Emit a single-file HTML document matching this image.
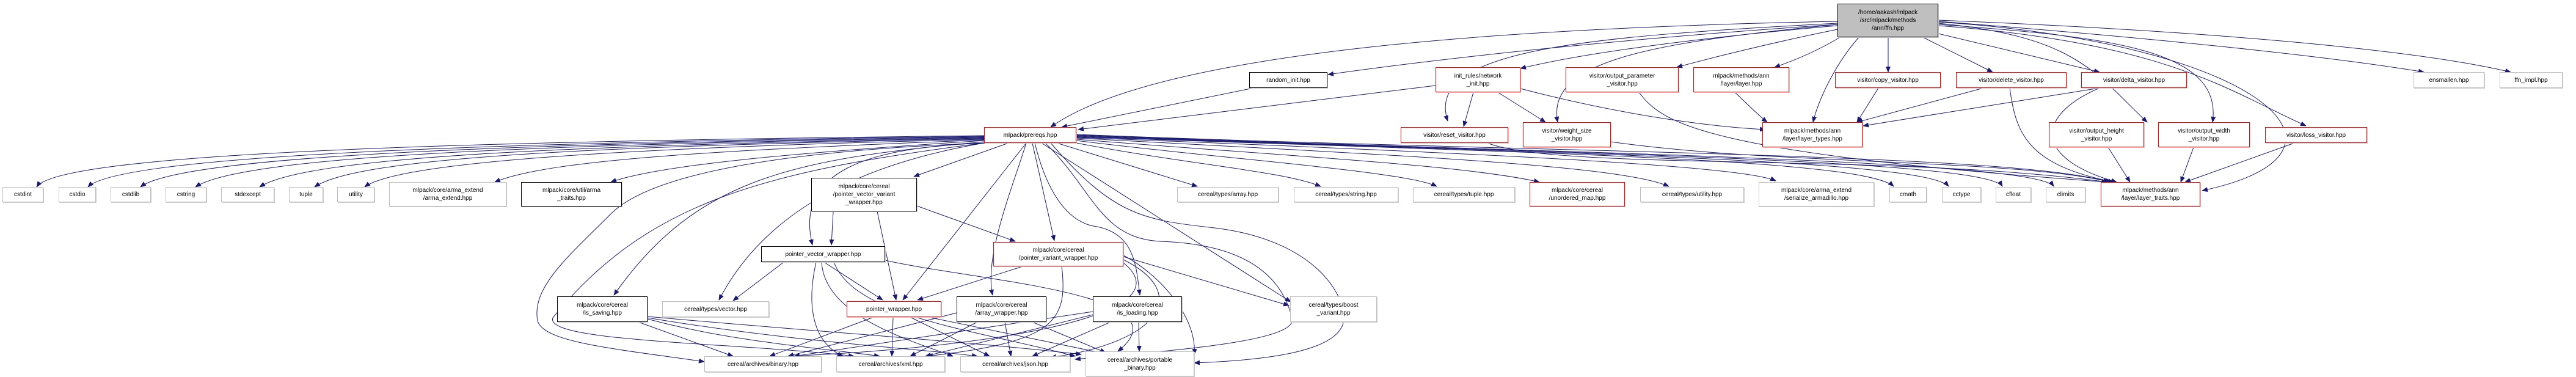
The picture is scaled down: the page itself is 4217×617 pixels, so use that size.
<!DOCTYPE html>
<html><head><meta charset="utf-8"><style>
html,body{margin:0;padding:0;background:#fff;}
#c{position:relative;width:4217px;height:617px;overflow:hidden;}
svg{position:absolute;left:0;top:0;}
.n{position:absolute;box-sizing:border-box;background:#fff;border:1px solid #bfbfbf;font:10px/13px "Liberation Sans",sans-serif;color:#000;display:flex;align-items:center;justify-content:center;text-align:center;white-space:nowrap;box-shadow:1px 1px 0 #ccc;}
.r{border-color:#ff0000;}
.k{border-color:#000;}
.g{border-color:#bfbfbf;}
.root{background:#bfbfbf;border-color:#000;}
</style></head><body><div id="c">
<svg width="4217" height="617" viewBox="0 0 4217 617">
<defs><marker id="a" markerWidth="10" markerHeight="8" refX="9" refY="4" orient="auto" markerUnits="userSpaceOnUse"><path d="M0,0 L10,4 L0,8 z" fill="#191970"/></marker></defs>
<g fill="none" stroke="#191970" stroke-width="1" marker-end="url(#a)">
<!-- root edges -->
<path d="M3008,35 C2500,45 1900,80 1720,208"/>
<path d="M3008,40 C2700,60 2400,90 2174,122"/>
<path d="M3008,42 C2800,60 2600,85 2489,112"/>
<path d="M3008,48 C2900,70 2800,95 2745,110"/>
<path d="M3022,55 C2990,75 2950,95 2905,110"/>
<path d="M3043,61 C3000,110 2975,170 2968,200"/>
<path d="M3091,61 L3091,118"/>
<path d="M3148,61 L3262,118"/>
<path d="M3173,55 L3437,118"/>
<path d="M3008,38 C2600,60 2330,80 2370,198"/>
<path d="M3008,40 C2700,70 2530,100 2550,200"/>
<path d="M3173,38 C3400,60 3430,120 3515,200"/>
<path d="M3173,40 C3450,60 3640,80 3622,200"/>
<path d="M3173,42 C3550,70 3650,150 3775,206"/>
<path d="M3173,36 C3700,70 3900,250 3605,312"/>
<path d="M3173,35 C3500,60 3800,90 3968,118"/>
<path d="M3173,33 C3600,50 3950,80 4110,118"/>
<!-- mid edges -->
<path d="M2052,144 L1738,208"/>
<path d="M2350,140 L1765,212"/>
<path d="M2412,151 L2396,207"/>
<path d="M2452,151 L2530,200"/>
<path d="M2489,145 C2700,200 2850,210 2890,212"/>
<path d="M2683,151 C2720,200 2780,250 3450,298"/>
<path d="M2840,151 C2860,170 2880,190 2893,200"/>
<path d="M3075,144 L3040,200"/>
<path d="M3247,144 L3040,200"/>
<path d="M3290,144 C3300,220 3320,270 3460,298"/>
<path d="M3437,144 L3050,206"/>
<path d="M3437,144 C3330,190 3330,260 3465,298"/>
<path d="M2435,234 C2550,280 3100,250 3450,298"/>
<path d="M2637,232 C2900,270 3300,260 3455,298"/>
<path d="M3451,241 L3487,298"/>
<path d="M3591,241 L3570,298"/>
<path d="M3756,234 L3577,298"/>
<!-- prereqs -> std nodes -->
<path d="M1611,222 C900,230 100,245 60,306"/>
<path d="M1611,223 C900,232 200,250 144,306"/>
<path d="M1611,224 C900,234 300,252 230,306"/>
<path d="M1611,225 C900,236 400,254 320,306"/>
<path d="M1611,226 C900,238 500,258 425,306"/>
<path d="M1611,227 C900,240 580,262 515,306"/>
<path d="M1611,228 C1000,242 650,266 597,306"/>
<path d="M1611,229 C1200,245 900,260 810,298"/>
<path d="M1611,230 C1300,250 1080,270 1000,298"/>
<path d="M1651,234 L1496,289"/>
<path d="M1618,234 C1420,240 1300,280 1330,401"/>
<path d="M1611,232 C1300,260 1140,290 1005,483"/>
<path d="M1611,234 C1400,270 1250,350 1177,491"/>
<path d="M1611,234 C1200,250 1050,300 1000,350 C930,420 870,470 880,525 C890,560 1000,570 1153,592"/>
<path d="M1611,234 C1250,280 1060,330 905,520 C890,560 1200,560 1398,583"/>
<path d="M1680,234 L1478,491"/>
<path d="M1690,234 L1726,394"/>
<path d="M1680,234 C1660,300 1610,420 1625,483"/>
<path d="M1694,234 C1710,300 1740,360 1790,370 C1860,380 1860,440 1866,483"/>
<path d="M1705,234 L2113,494"/>
<path d="M1711,234 C1790,310 1800,390 1900,395 C2050,400 2100,460 2115,520 C2130,560 1900,575 1760,588"/>
<path d="M1720,234 C1820,350 1870,360 1980,372 C2150,390 2200,480 2200,520 C2200,580 2050,590 1955,594"/>
<path d="M1730,234 L1960,305"/>
<path d="M1762,234 C1950,270 2100,280 2162,305"/>
<path d="M1762,230 C2000,260 2300,280 2352,305"/>
<path d="M1762,228 C2100,255 2400,270 2520,298"/>
<path d="M1762,226 C2300,255 2650,270 2732,305"/>
<path d="M1762,225 C2400,250 2850,270 2907,296"/>
<path d="M1762,224 C2500,250 3050,260 3100,305"/>
<path d="M1762,223 C2500,250 3150,260 3190,305"/>
<path d="M1762,222 C2500,250 3250,260 3278,305"/>
<path d="M1762,221 C2500,250 3330,260 3362,305"/>
<path d="M1762,220 C2500,250 3300,250 3452,298"/>
<!-- cereal wrappers -->
<path d="M1364,346 L1361,401"/>
<path d="M1501,337 L1662,395"/>
<path d="M1436,346 L1467,491"/>
<path d="M1283,429 L1200,492"/>
<path d="M1349,429 L1445,491"/>
<path d="M1336,429 C1320,500 1330,560 1380,583"/>
<path d="M1345,429 C1350,520 1500,560 1560,583"/>
<path d="M1365,429 C1400,520 1600,540 1760,583"/>
<path d="M1449,426 C1600,460 1950,480 1830,575"/>
<path d="M1674,436 L1502,491"/>
<path d="M1839,420 L2110,500"/>
<path d="M1839,418 C1900,450 1960,520 1955,580"/>
<path d="M1738,436 C1750,530 1720,560 1518,583"/>
<path d="M1839,425 C1950,480 1900,560 1720,585"/>
<path d="M1839,430 C1950,520 1600,570 1290,583"/>
<path d="M1430,519 L1260,583"/>
<path d="M1462,519 L1460,583"/>
<path d="M1490,519 L1620,583"/>
<path d="M1520,519 L1815,580"/>
<path d="M1045,527 L1200,583"/>
<path d="M1060,522 C1200,560 1350,570 1440,583"/>
<path d="M1060,520 C1300,560 1500,570 1600,583"/>
<path d="M1060,518 C1300,540 1600,560 1770,580"/>
<path d="M1566,512 L1290,583"/>
<path d="M1600,527 L1490,583"/>
<path d="M1645,527 L1655,583"/>
<path d="M1690,527 L1810,577"/>
<path d="M1789,510 L1300,583"/>
<path d="M1789,515 L1515,583"/>
<path d="M1818,527 L1690,583"/>
<path d="M1864,527 L1865,575"/>
</g></svg>

<div class="n root" style="left:3008px;top:6px;width:165px;height:55px;">/home/aakash/mlpack<br>/src/mlpack/methods<br>/ann/ffn.hpp</div>
<div class="n k" style="left:2045px;top:118px;width:128px;height:26px;">random_init.hpp</div>
<div class="n r" style="left:2350px;top:110px;width:139px;height:41px;">init_rules/network<br>_init.hpp</div>
<div class="n r" style="left:2563px;top:110px;width:185px;height:41px;">visitor/output_parameter<br>_visitor.hpp</div>
<div class="n r" style="left:2772px;top:110px;width:157px;height:41px;">mlpack/methods/ann<br>/layer/layer.hpp</div>
<div class="n r" style="left:3004px;top:118px;width:173px;height:26px;">visitor/copy_visitor.hpp</div>
<div class="n r" style="left:3202px;top:118px;width:181px;height:26px;">visitor/delete_visitor.hpp</div>
<div class="n r" style="left:3407px;top:118px;width:173px;height:26px;">visitor/delta_visitor.hpp</div>
<div class="n g" style="left:3951px;top:118px;width:116px;height:26px;">ensmallen.hpp</div>
<div class="n g" style="left:4092px;top:118px;width:103px;height:26px;">ffn_impl.hpp</div>

<div class="n r" style="left:1611px;top:208px;width:151px;height:26px;">mlpack/prereqs.hpp</div>
<div class="n r" style="left:2293px;top:208px;width:176px;height:26px;">visitor/reset_visitor.hpp</div>
<div class="n r" style="left:2493px;top:200px;width:144px;height:41px;">visitor/weight_size<br>_visitor.hpp</div>
<div class="n r" style="left:2885px;top:200px;width:164px;height:41px;">mlpack/methods/ann<br>/layer/layer_types.hpp</div>
<div class="n r" style="left:3354px;top:200px;width:156px;height:41px;">visitor/output_height<br>_visitor.hpp</div>
<div class="n r" style="left:3533px;top:200px;width:150px;height:41px;">visitor/output_width<br>_visitor.hpp</div>
<div class="n r" style="left:3708px;top:208px;width:167px;height:26px;">visitor/loss_visitor.hpp</div>

<div class="n g" style="left:4px;top:306px;width:67px;height:25px;">cstdint</div>
<div class="n g" style="left:96px;top:306px;width:61px;height:25px;">cstdio</div>
<div class="n g" style="left:181px;top:306px;width:66px;height:25px;">cstdlib</div>
<div class="n g" style="left:271px;top:306px;width:67px;height:25px;">cstring</div>
<div class="n g" style="left:362px;top:306px;width:87px;height:25px;">stdexcept</div>
<div class="n g" style="left:473px;top:306px;width:56px;height:25px;">tuple</div>
<div class="n g" style="left:552px;top:306px;width:61px;height:25px;">utility</div>
<div class="n g" style="left:637px;top:298px;width:192px;height:40px;">mlpack/core/arma_extend<br>/arma_extend.hpp</div>
<div class="n k" style="left:853px;top:298px;width:165px;height:40px;">mlpack/core/util/arma<br>_traits.hpp</div>
<div class="n k" style="left:1328px;top:291px;width:173px;height:55px;">mlpack/core/cereal<br>/pointer_vector_variant<br>_wrapper.hpp</div>
<div class="n g" style="left:1927px;top:306px;width:166px;height:25px;">cereal/types/array.hpp</div>
<div class="n g" style="left:2118px;top:306px;width:171px;height:25px;">cereal/types/string.hpp</div>
<div class="n g" style="left:2313px;top:306px;width:167px;height:25px;">cereal/types/tuple.hpp</div>
<div class="n r" style="left:2504px;top:298px;width:156px;height:40px;">mlpack/core/cereal<br>/unordered_map.hpp</div>
<div class="n g" style="left:2685px;top:306px;width:170px;height:25px;">cereal/types/utility.hpp</div>
<div class="n g" style="left:2879px;top:298px;width:189px;height:40px;">mlpack/core/arma_extend<br>/serialize_armadillo.hpp</div>
<div class="n g" style="left:3093px;top:306px;width:61px;height:25px;">cmath</div>
<div class="n g" style="left:3179px;top:306px;width:64px;height:25px;">cctype</div>
<div class="n g" style="left:3267px;top:306px;width:58px;height:25px;">cfloat</div>
<div class="n g" style="left:3349px;top:306px;width:65px;height:25px;">climits</div>
<div class="n r" style="left:3439px;top:298px;width:163px;height:40px;">mlpack/methods/ann<br>/layer/layer_traits.hpp</div>

<div class="n k" style="left:1246px;top:403px;width:203px;height:26px;">pointer_vector_wrapper.hpp</div>
<div class="n r" style="left:1626px;top:396px;width:213px;height:40px;">mlpack/core/cereal<br>/pointer_variant_wrapper.hpp</div>

<div class="n k" style="left:912px;top:485px;width:148px;height:42px;">mlpack/core/cereal<br>/is_saving.hpp</div>
<div class="n g" style="left:1084px;top:493px;width:175px;height:26px;">cereal/types/vector.hpp</div>
<div class="n r" style="left:1386px;top:493px;width:155px;height:26px;">pointer_wrapper.hpp</div>
<div class="n k" style="left:1566px;top:485px;width:147px;height:42px;">mlpack/core/cereal<br>/array_wrapper.hpp</div>
<div class="n k" style="left:1789px;top:485px;width:146px;height:42px;">mlpack/core/cereal<br>/is_loading.hpp</div>
<div class="n g" style="left:2112px;top:485px;width:142px;height:42px;">cereal/types/boost<br>_variant.hpp</div>

<div class="n g" style="left:1153px;top:583px;width:192px;height:26px;">cereal/archives/binary.hpp</div>
<div class="n g" style="left:1369px;top:583px;width:178px;height:26px;">cereal/archives/xml.hpp</div>
<div class="n g" style="left:1572px;top:583px;width:180px;height:26px;">cereal/archives/json.hpp</div>
<div class="n g" style="left:1777px;top:575px;width:178px;height:41px;">cereal/archives/portable<br>_binary.hpp</div>
</div></body></html>
